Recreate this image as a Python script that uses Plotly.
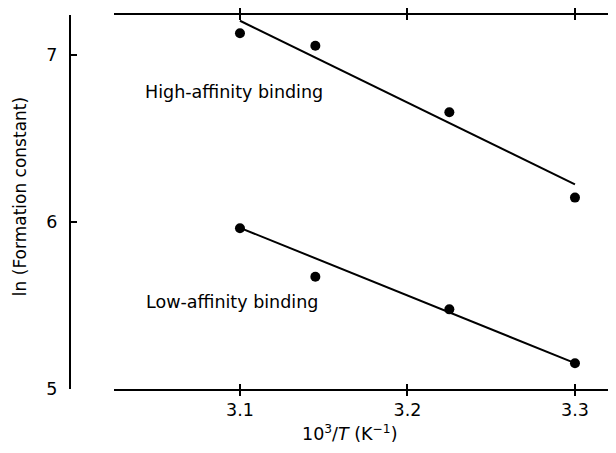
import plotly.graph_objects as go

# Data
x_points = [3.1, 3.145, 3.225, 3.3]
high_affinity = [7.13, 7.055, 6.657, 6.146]
low_affinity = [5.963, 5.672, 5.477, 5.154]

fit_x = [3.1, 3.3]
high_fit = [7.205, 6.225]
low_fit = [5.965, 5.155]

y_ticks = [5, 6, 7]
x_ticks = [3.1, 3.2, 3.3]

FONT = "DejaVu Sans, sans-serif"
FS = 17.5

fig = go.Figure()
fig.add_trace(go.Scatter(x=fit_x, y=high_fit, mode="lines",
                         line=dict(color="black", width=2), showlegend=False))
fig.add_trace(go.Scatter(x=fit_x, y=low_fit, mode="lines",
                         line=dict(color="black", width=2), showlegend=False))
fig.add_trace(go.Scatter(x=x_points, y=high_affinity, mode="markers",
                         marker=dict(color="black", size=10), showlegend=False))
fig.add_trace(go.Scatter(x=x_points, y=low_affinity, mode="markers",
                         marker=dict(color="black", size=10), showlegend=False))
# invisible trace on right axis so it is drawn
fig.add_trace(go.Scatter(x=[3.2], y=[6], yaxis="y2", mode="markers",
                         marker=dict(opacity=0), showlegend=False, hoverinfo="skip"))

# page body has an 8px margin, so the figure is 608x445
fig.update_layout(
    width=608, height=445,
    margin=dict(l=62, r=2, t=7, b=64, autoexpand=False),
    paper_bgcolor="white", plot_bgcolor="white",
    font=dict(family=FONT, size=FS, color="black"),
    xaxis=dict(domain=[0.0809, 1], range=[3.0248, 3.3233], automargin=False,
               tickvals=x_ticks, ticktext=["3.1", "3.2", "3.3"],
               ticks="inside", ticklen=5, tickwidth=2, tickcolor="black",
               showline=True, linecolor="black", linewidth=2, mirror="allticks",
               showgrid=False, zeroline=False, ticklabelstandoff=4),
    yaxis=dict(anchor="free", position=0, range=[5, 7.2395], automargin=False,
               tickvals=y_ticks, ticktext=["5", "6", "7"],
               ticks="inside", ticklen=6, tickwidth=2, tickcolor="black",
               showline=True, linecolor="black", linewidth=2,
               showgrid=False, zeroline=False, ticklabelstandoff=8),
    yaxis2=dict(overlaying="y", anchor="x", side="right", matches="y", automargin=False,
                tickvals=y_ticks, showticklabels=False,
                ticks="inside", ticklen=6, tickwidth=2, tickcolor="black",
                showline=True, linecolor="#999999", linewidth=1,
                showgrid=False, zeroline=False),
    annotations=[
        dict(text="High-affinity binding", x=3.0421, y=6.778, xref="x", yref="y",
             xanchor="left", yanchor="middle", showarrow=False, font=dict(size=FS)),
        dict(text="Low-affinity binding", x=3.0427, y=5.521, xref="x", yref="y",
             xanchor="left", yanchor="middle", showarrow=False, font=dict(size=FS)),
        dict(text="ln (Formation constant)", x=-0.0919, y=0.513, xref="paper", yref="paper",
             xanchor="center", yanchor="middle", textangle=-90, showarrow=False,
             font=dict(size=17)),
        dict(text="10<sup>3</sup>/<i>T</i> (K<sup>−1</sup>)", x=0.5147, y=-0.1176,
             xref="paper", yref="paper", xanchor="center", yanchor="middle",
             showarrow=False, font=dict(size=FS)),
    ],
)

fig.write_html("out.html")
